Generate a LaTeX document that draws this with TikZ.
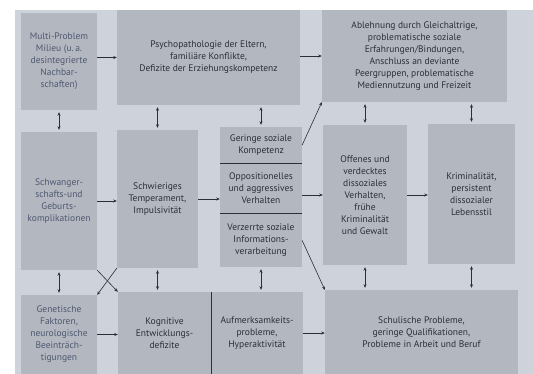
\documentclass[tikz,border=0pt]{standalone}
\usepackage{fontspec}
\setmainfont{PT Sans}
\usepackage{xcolor}
\usepackage{tikz}
\usetikzlibrary{positioning,arrows.meta}

\definecolor{pagebg}{HTML}{CDD2DB}
\definecolor{boxbg}{HTML}{B3B7C0}
\definecolor{inktext}{HTML}{2C2F37}
\definecolor{inkpale}{HTML}{4E5870}
\definecolor{inkline}{HTML}{2C2F36}

\begin{document}
\begin{tikzpicture}[x=1pt, y=-1pt, >={Stealth[length=3.5pt,width=3pt]},
  box/.style={fill=boxbg, text=inktext, align=center, inner sep=0pt,
    font=\fontsize{9.5}{12}\selectfont},
  pale/.style={text=inkpale},
  link/.style={inkline, line width=0.6pt}]
\useasboundingbox (0,0) rectangle (533,374);
\fill[white] (0,0) rectangle (533,374);
\fill[pagebg] (15,10) rectangle (533,374);

% obere Reihe
\node[box, pale, minimum width=76pt, minimum height=97pt] (milieu) at (59,61.5)
  {Multi-Problem\\Milieu (u.\,a.\\desintegrierte\\Nachbar-\\schaften)};
\node[box, minimum width=183pt, minimum height=95pt] (psycho) at (208.5,57.5)
  {Psychopathologie der Eltern,\\familiäre Konflikte,\\Defizite der Erziehungskompetenz};
\node[box, minimum width=185pt, minimum height=92pt] (peer) at (414.5,56)
  {Ablehnung durch Gleichaltrige,\\problematische soziale\\Erfahrungen/Bindungen,\\Anschluss an deviante\\Peergruppen, problematische\\Mediennutzung und Freizeit};

% mittlere Reihe
\node[box, pale, minimum width=76pt, minimum height=138pt] (schwanger) at (59,201)
  {Schwanger-\\schafts-und\\Geburts-\\komplikationen};
\node[box, minimum width=81pt, minimum height=138pt] (temperament) at (157.5,199)
  {Schwieriges\\Temperament,\\Impulsivität};
\node[box, minimum width=82pt, minimum height=36pt] (kompetenz) at (261,145)
  {Geringe soziale\\Kompetenz};
\node[box, minimum width=82pt, minimum height=51pt] (opposition) at (261,188.5)
  {Oppositionelles\\und aggressives\\Verhalten};
\node[box, minimum width=82pt, minimum height=53pt] (verzerrt) at (261,240.5)
  {Verzerrte soziale\\Informations-\\verarbeitung};
\node[box, minimum width=84pt, minimum height=140pt] (offenes) at (365,195)
  {Offenes und\\verdecktes\\dissoziales\\Verhalten,\\frühe\\Kriminalität\\und Gewalt};
\node[box, minimum width=87pt, minimum height=140pt] (krimi) at (471.5,194)
  {Kriminalität,\\persistent\\dissozialer\\Lebensstil};

% untere Reihe
\node[box, pale, minimum width=76pt, minimum height=79pt] (genetik) at (59,334.5)
  {Genetische\\Faktoren,\\neurologische\\Beeinträch-\\tigungen};
\node[box, minimum width=93pt, minimum height=82pt] (kognitiv) at (164.5,333)
  {Kognitive\\Entwicklungs-\\defizite};
\node[box, minimum width=92pt, minimum height=82pt] (aufmerk) at (257,333)
  {Aufmerksamkeits-\\probleme,\\Hyperaktivität};
\node[box, minimum width=193pt, minimum height=84pt] (schule) at (421.5,332)
  {Schulische Probleme,\\geringe Qualifikationen,\\Probleme in Arbeit und Beruf};

% Trennlinien
\draw[link] (kompetenz.south west) -- (kompetenz.south east);
\draw[link] (verzerrt.north west) -- (verzerrt.north east);
\draw[link] (kognitiv.north east) -- (kognitiv.south east);

% waagerechte Pfeile
\draw[link, ->] (psycho.west -| milieu.east) -- (psycho.west);
\draw[link, ->] (peer.west -| psycho.east) -- (peer.west);
\draw[link, ->] (schwanger.east) -- (schwanger.east -| temperament.west);
\draw[link, ->] (temperament.east) -- (temperament.east -| opposition.west);
\draw[link, ->] (offenes.west -| opposition.east) -- (offenes.west);
\draw[link, ->] (offenes.east) -- (offenes.east -| krimi.west);
\draw[link, ->] (genetik.east) -- (genetik.east -| kognitiv.west);
\draw[link, ->] (aufmerk.east) -- (aufmerk.east -| schule.west);

% schraege Pfeile
\draw[link, ->] (kompetenz.east) -- (peer.south west);
\draw[link, ->] (verzerrt.east) -- (schule.north west);
\draw[link, ->] (schwanger.south east) -- (kognitiv.north west);
\draw[link, ->] (temperament.south west) -- (genetik.north east);

% Doppelpfeile oben
\draw[link, <->, shorten <=2pt, shorten >=2pt] (milieu.south) -- (milieu.south |- schwanger.north);
\draw[link, <->, shorten <=2pt, shorten >=2pt] (temperament.north |- psycho.south) -- (temperament.north);
\draw[link, <->, shorten <=2pt, shorten >=2pt] (kompetenz.north |- psycho.south) -- (kompetenz.north);
\draw[link, <->, shorten <=2pt, shorten >=2pt] (offenes.north |- peer.south) -- (offenes.north);
\draw[link, <->, shorten <=2pt, shorten >=2pt] (krimi.north |- peer.south) -- (krimi.north);

% Doppelpfeile unten
\draw[link, <->, shorten <=2pt, shorten >=2pt] (schwanger.south) -- (schwanger.south |- genetik.north);
\draw[link, <->, shorten <=2pt, shorten >=2pt] (temperament.south) -- (temperament.south |- kognitiv.north);
\draw[link, <->, shorten <=2pt, shorten >=2pt] (verzerrt.south) -- (verzerrt.south |- aufmerk.north);
\draw[link, <->, shorten <=2pt, shorten >=2pt] (offenes.south) -- (offenes.south |- schule.north);
\draw[link, <->, shorten <=2pt, shorten >=2pt] (krimi.south) -- (krimi.south |- schule.north);

\end{tikzpicture}
\end{document}
